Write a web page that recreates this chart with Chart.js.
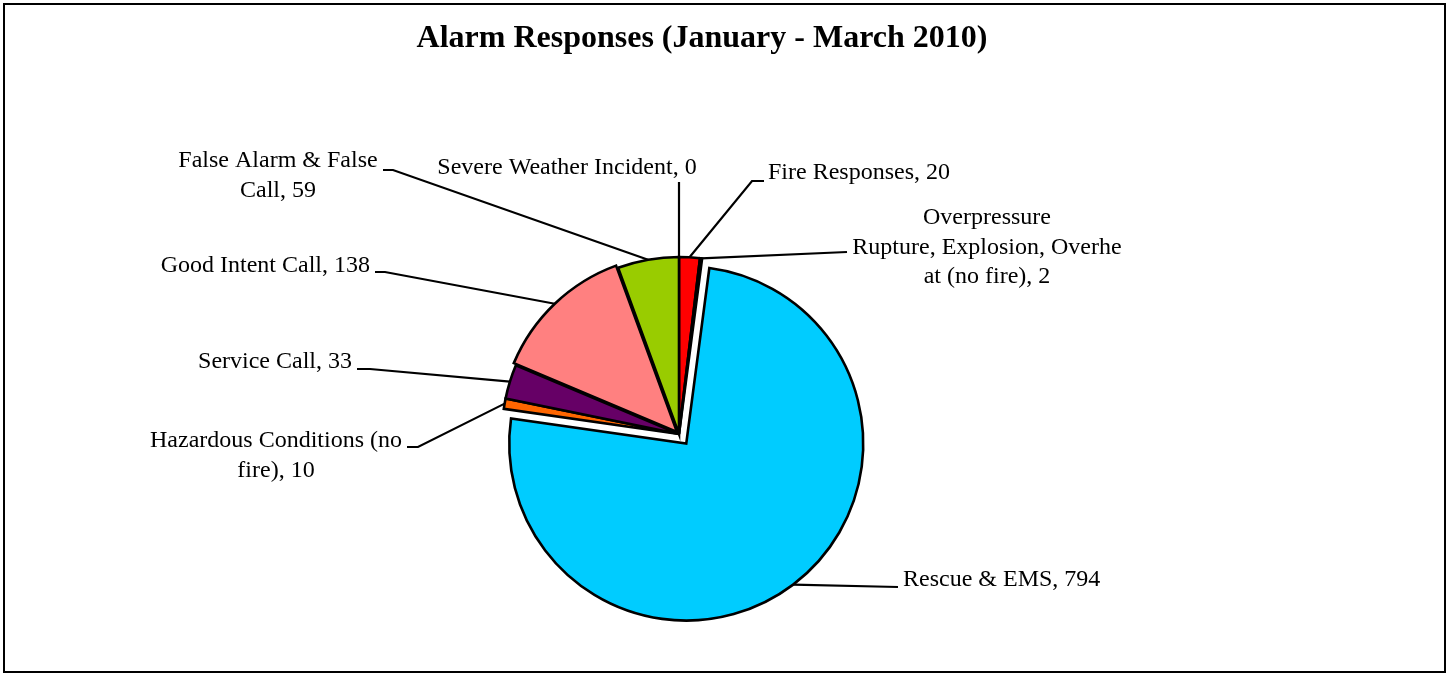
<!DOCTYPE html>
<html>
<head>
<meta charset="utf-8">
<title>Alarm Responses</title>
<script src="https://cdn.jsdelivr.net/npm/chart.js@4.4.0/dist/chart.umd.min.js"></script>
<style>
    html, body { margin: 0; padding: 0; background: #fff; }
    #wrap { position: relative; width: 1452px; height: 675px; }
    #wrap canvas { position: absolute; left: 0; top: 0; }
    #frame { position: absolute; left: 3px; top: 3px; width: 1439px; height: 666px; border: 2.5px solid #000; pointer-events: none; }
</style>
</head>
<body>
<div id="wrap">
    <canvas id="alarmPie" width="1452" height="675"></canvas>
    <div id="frame"></div>
</div>
<script>
// data
const categories = [
    'Fire Responses',
    'Overpressure Rupture, Explosion, Overheat (no fire)',
    'Rescue & EMS',
    'Hazardous Conditions (no fire)',
    'Service Call',
    'Good Intent Call',
    'False Alarm & False Call',
    'Severe Weather Incident'
];
const counts = [20, 2, 794, 10, 33, 138, 59, 0];

// how each label wraps (value gets appended to the last line)
const labelLines = [
    ['Fire Responses'],
    ['Overpressure', 'Rupture, Explosion, Overhe', 'at (no fire)'],
    ['Rescue & EMS'],
    ['Hazardous Conditions (no', 'fire)'],
    ['Service Call'],
    ['Good Intent Call'],
    ['False Alarm & False', 'Call'],
    ['Severe Weather Incident']
];

const sliceColors = ['#FF0000', '#333399', '#00CCFF', '#FF6600', '#660066', '#FF8080', '#99CC00', '#FFFF00'];
const explode = [0, 0, 12, 0, 0, 3, 0, 0];

// label placement, offsets from pie centre (px)
const labelPos = [
    { x: 89, y: -261, align: 'left', leader: [[73, -253], [85, -253]] },
    { x: 308, y: -216, align: 'center', leader: [[168, -182]] },
    { x: 224, y: 146, align: 'left', leader: [[219, 153]] },
    { x: -403, y: 7, align: 'center', leader: [[-261, 13], [-272, 13]] },
    { x: -327, y: -72, align: 'right', leader: [[-309, -65], [-322, -65]] },
    { x: -309, y: -168, align: 'right', leader: [[-294, -162], [-304, -162]] },
    { x: -401, y: -273, align: 'center', leader: [[-286, -264], [-296, -264]] },
    { x: -112, y: -266, align: 'center', leader: [[0, -252]] }
];

const FONT = '"Liberation Serif", "Times New Roman", serif';

const pieExtras = {
    id: 'pieExtras',
    // draw the arcs ourselves so exploded slices keep their radius
    beforeDatasetDraw(chart, args) {
        const ctx = chart.ctx;
        args.meta.data.forEach((arc, i) => {
            const mid = (arc.startAngle + arc.endAngle) / 2;
            ctx.save();
            ctx.translate(Math.cos(mid) * explode[i], Math.sin(mid) * explode[i]);
            arc.draw(ctx);
            ctx.restore();
        });
        return false;
    },
    afterDraw(chart) {
        const ctx = chart.ctx;
        const meta = chart.getDatasetMeta(0);

        // title
        ctx.save();
        ctx.fillStyle = '#000';
        ctx.font = 'bold 32px ' + FONT;
        ctx.textAlign = 'center';
        ctx.textBaseline = 'alphabetic';
        ctx.fillText('Alarm Responses (January - March 2010)', 702, 47);
        ctx.restore();

        meta.data.forEach((arc, i) => {
            const cx = arc.x, cy = arc.y;
            const mid = (arc.startAngle + arc.endAngle) / 2;
            const r = arc.outerRadius + explode[i];
            const p = labelPos[i];

            // leader line
            ctx.save();
            ctx.strokeStyle = '#000';
            ctx.lineWidth = 2.2;
            ctx.beginPath();
            ctx.moveTo(cx + Math.cos(mid) * r, cy + Math.sin(mid) * r);
            p.leader.forEach(pt => ctx.lineTo(cx + pt[0], cy + pt[1]));
            ctx.stroke();
            ctx.restore();

            // label text
            const lines = labelLines[i].slice();
            lines[lines.length - 1] += ', ' + counts[i];
            ctx.save();
            ctx.fillStyle = '#000';
            ctx.font = '24px ' + FONT;
            ctx.textAlign = p.align;
            ctx.textBaseline = 'middle';
            lines.forEach((t, k) => ctx.fillText(t, cx + p.x, cy + p.y + k * 29.5));
            ctx.restore();
        });
    }
};

new Chart(document.getElementById('alarmPie'), {
    type: 'pie',
    data: {
        labels: categories,
        datasets: [{
            data: counts,
            backgroundColor: sliceColors,
            borderColor: '#000',
            borderWidth: 2.6,
            borderJoinStyle: 'miter',
            radius: 177
        }]
    },
    options: {
        responsive: false,
        animation: false,
        devicePixelRatio: 1,
        layout: {
            padding: { left: 0, right: 94, top: 193, bottom: 0 }
        },
        plugins: {
            legend: { display: false },
            title: { display: false },
            tooltip: { enabled: false }
        }
    },
    plugins: [pieExtras]
});
</script>
</body>
</html>
